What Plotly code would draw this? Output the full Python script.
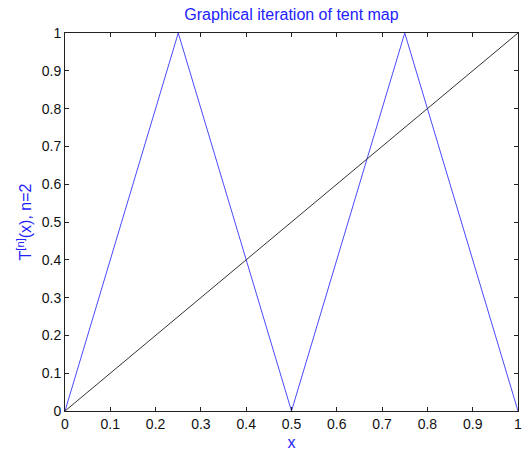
import plotly.graph_objects as go

x_tent = [0, 0.25, 0.5, 0.75, 1]
y_tent = [0, 1, 0, 1, 0]
x_diag = [0, 1]
y_diag = [0, 1]
tick_vals = [0, 0.1, 0.2, 0.3, 0.4, 0.5, 0.6, 0.7, 0.8, 0.9, 1]
tick_text = ["0", "0.1", "0.2", "0.3", "0.4", "0.5", "0.6", "0.7", "0.8", "0.9", "1"]

FONT = "Liberation Sans, Arial, Helvetica"
fig = go.Figure()
fig.add_trace(go.Scatter(x=x_tent, y=y_tent, mode="lines",
                         line=dict(color="#4a4aff", width=1), showlegend=False))
fig.add_trace(go.Scatter(x=x_diag, y=y_diag, mode="lines",
                         line=dict(color="#333333", width=1), showlegend=False))

axis_common = dict(
    range=[0, 1], tickvals=tick_vals, ticktext=tick_text,
    ticks="inside", ticklen=4, tickcolor="#222", tickwidth=1,
    showline=True, linecolor="#222", linewidth=1, mirror="ticks",
    showgrid=False, zeroline=False, automargin=False,
    tickfont=dict(family=FONT, size=14, color="#111"),
)

fig.update_layout(
    width=523, height=452,
    margin=dict(l=65, r=5, t=33, b=41),
    paper_bgcolor="white", plot_bgcolor="white",
    title=dict(text="Graphical iteration of tent map", x=0.5, xanchor="center",
               xref="paper", y=1, yref="container", yanchor="top", pad=dict(t=9),
               font=dict(family=FONT, size=16, color="#2222ff")),
    xaxis=dict(**axis_common,
               title=dict(text="x", standoff=6,
                          font=dict(family=FONT, size=16, color="#2222ff"))),
    yaxis=dict(**axis_common,
               title=dict(text="T<sup>[n]</sup>(x), n=2", standoff=6,
                          font=dict(family=FONT, size=16, color="#2222ff"))),
)

fig.write_html("out.html")
